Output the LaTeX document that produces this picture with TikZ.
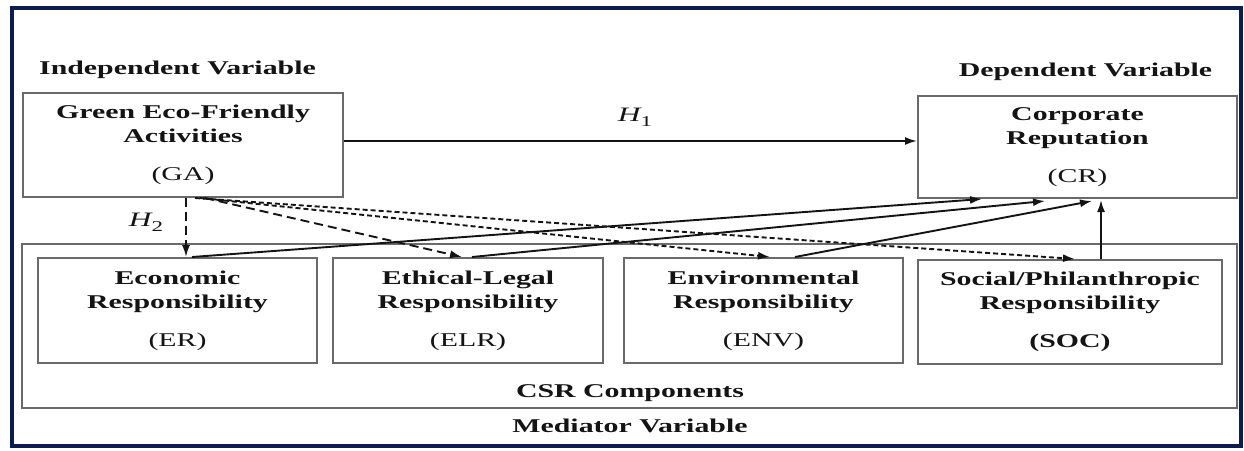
\documentclass[tikz,border=0pt]{standalone}
\usepackage{fontspec}
\setmainfont{Liberation Serif}[FakeStretch=1.53]
\usetikzlibrary{arrows.meta,calc}
\definecolor{navy}{HTML}{0B1D4F}
\definecolor{boxgray}{HTML}{6A6A6A}
\definecolor{ink}{HTML}{141414}
\begin{document}
\begin{tikzpicture}[x=1pt,y=-1pt,
  box/.style={draw=boxgray, line width=2pt, inner sep=0pt, align=center, text=ink,
    font=\fontsize{19.5}{24}\selectfont},
  lbl/.style={text=ink, font=\fontsize{19.5}{24}\selectfont\bfseries, inner sep=0pt},
  hyp/.style={text=ink, font=\fontsize{20.5}{24}\selectfont\itshape, inner sep=0pt},
  arr/.style={line width=1.9pt, draw=ink, -{Latex[length=12pt,width=8pt]}},
  longdash/.style={dash pattern=on 9pt off 5pt},
  shortdash/.style={dash pattern=on 5pt off 3pt}]
\useasboundingbox (0,0) rectangle (1244,450);
\fill[white] (0,0) rectangle (1244,450);
\draw[navy, line width=4.5pt] (12,8) rectangle (1241,446);

% top labels
\node[lbl] (indep) at (177.5,70) {Independent Variable};
\node[lbl] (dep) at (1085.5,72) {Dependent Variable};

% main boxes
\node[box, minimum width=320pt, minimum height=104pt] (ga) at (183,145)
  {\textbf{Green Eco-Friendly}\\\textbf{Activities}\\[14pt](GA)};
\node[box, minimum width=319pt, minimum height=102pt] (cr) at (1077.5,147)
  {\textbf{Corporate}\\\textbf{Reputation}\\[14pt](CR)};

% CSR container
\node[box, minimum width=1215pt, minimum height=164pt] (csr) at (629.5,326) {};
\node[lbl] (csrlbl) at (630,393) {CSR Components};
\node[lbl] (med) at (630,426) {Mediator Variable};

% mediator boxes
\node[box, minimum width=279pt, minimum height=105pt] (er) at (177.5,310.5)
  {\textbf{Economic}\\\textbf{Responsibility}\\[14pt](ER)};
\node[box, minimum width=270pt, minimum height=105pt] (elr) at (468,310.5)
  {\textbf{Ethical-Legal}\\\textbf{Responsibility}\\[14pt](ELR)};
\node[box, minimum width=279pt, minimum height=105pt] (env) at (763.5,310.5)
  {\textbf{Environmental}\\\textbf{Responsibility}\\[14pt](ENV)};
\node[box, minimum width=304pt, minimum height=104pt] (soc) at (1070,312)
  {\textbf{Social/Philanthropic}\\\textbf{Responsibility}\\[14pt]\textbf{(SOC)}};

% hypothesis labels
\node[hyp] (h1) at (635,117) {H\raisebox{-5pt}{\fontsize{15}{15}\selectfont\upshape 1}};
\node[hyp] (h2) at (146,222) {H\raisebox{-5pt}{\fontsize{15}{15}\selectfont\upshape 2}};

% H1
\draw[arr] ([yshift=4pt]ga.east) -- ([yshift=6pt]cr.west);

% dashed H2 paths
\draw[arr, longdash] ([xshift=3pt]ga.south) -- ([xshift=8.5pt]er.north);
\draw[arr, longdash] ([xshift=22pt]ga.south) -- ([xshift=-6pt]elr.north);
\draw[arr, shortdash] ([xshift=17pt]ga.south) -- ([xshift=6.5pt]env.north);
\draw[arr, shortdash] ([xshift=12pt]ga.south) -- ([xshift=5pt]soc.north);

% solid mediator -> CR
\draw[arr] ([xshift=14.5pt]er.north) -- ([xshift=-95.5pt]cr.south);
\draw[arr] ([xshift=4pt]elr.north) -- ([xshift=-32.5pt,yshift=-2pt]cr.south);
\draw[arr] ([xshift=31.5pt]env.north) -- ([xshift=14.5pt,yshift=-2pt]cr.south);
\draw[arr] ([xshift=31pt]soc.north) -- ([xshift=23.5pt,yshift=-1pt]cr.south);
\end{tikzpicture}
\end{document}
